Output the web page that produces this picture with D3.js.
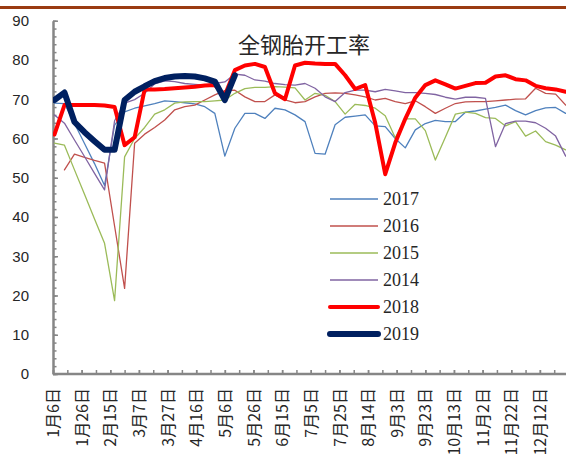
<!DOCTYPE html>
<html>
<head>
<meta charset="utf-8">
<script src="https://cdn.jsdelivr.net/npm/d3@7/dist/d3.min.js"></script>
<style>
  html, body { margin: 0; padding: 0; background: #fff; }
  svg { display: block; }
</style>
</head>
<body>
<svg id="chart" width="566" height="461"></svg>
<script>
// Weekly observation dates, mapped onto a single reference year.
const weekStart = '2019-01-07';
const weekCount = 52;

// Series values (开工率, %), one per week.
const s2017 = [69.0, 68.9, 63.8, 58.7, 53.6, 48.0, 63.4, 66.8, 67.7, 68.3,
  68.9, 69.6, 69.4, 69.1, 68.8, 68.1, 66.4, 55.5, 62.6, 66.4, 66.4, 65.1,
  67.7, 67.3, 66.0, 64.3, 56.2, 56.0, 63.5, 65.4, 65.7, 66.0, 63.2, 63.0,
  60.0, 57.6, 62.2, 63.8, 64.6, 64.3, 64.3, 66.7, 67.0, 67.5, 67.9, 68.5,
  67.1, 66.0, 67.1, 67.8, 67.9, 66.4];
const s2016 = [null, 52.0, 56.0, 55.2, 54.4, 53.7, 37.7, 21.8, 58.8, 61.1,
  62.8, 64.7, 67.3, 68.1, 68.5, 69.8, 71.1, 72.2, 72.3, 70.6, 69.4, 69.4,
  71.1, 69.8, 69.1, 69.4, 70.6, 71.5, 71.6, 71.5, 71.1, 70.6, 69.8, 70.2,
  69.4, 68.9, 69.6, 68.1, 66.4, 67.7, 68.9, 69.3, 69.4, 69.4, 69.6, 69.8,
  70.0, 70.1, 72.8, 71.5, 71.3, 68.5];
const s2015 = [58.8, 58.3, 52.0, 45.8, 39.5, 33.3, 18.7, 55.3, 60.0, 62.8,
  66.2, 67.3, 69.0, 69.3, 69.4, 69.4, 69.6, 69.8, 71.5, 72.7, 73.0, 73.0,
  73.2, 73.1, 72.9, 69.8, 71.5, 71.0, 69.4, 66.2, 68.7, 68.4, 67.7, 65.8,
  60.2, 65.0, 65.0, 62.0, 54.5, 60.3, 66.2, 66.7, 66.4, 65.3, 65.1, 63.2,
  64.3, 60.6, 61.9, 59.2, 58.3, 57.1];
const s2014 = [66.0, 63.9, 59.6, 55.4, 51.1, 46.9, 64.5, 69.0, 69.9, 71.5,
  73.9, 74.7, 74.5, 74.0, 73.8, 73.6, 74.0, 74.4, 76.4, 76.1, 74.9, 74.6,
  74.0, 73.7, 73.6, 74.0, 72.8, 70.6, 69.4, 71.7, 72.3, 72.3, 71.9, 72.5,
  72.1, 71.7, 71.7, 71.5, 71.2, 70.5, 70.0, 70.5, 70.5, 70.2, 57.9, 63.8,
  64.4, 64.4, 64.0, 62.6, 60.6, 55.5];
const s2018 = [61.0, 68.5, 68.5, 68.5, 68.5, 68.4, 68.0, 58.3, 60.3, 72.5,
  72.5, 72.6, 72.8, 73.0, 73.2, 73.5, 73.6, 71.0, 77.4, 78.6, 79.0, 78.2,
  71.5, 70.0, 78.6, 79.3, 79.1, 79.0, 79.0, 76.1, 72.6, 73.6, 64.0, 50.9,
  58.9, 65.0, 70.4, 73.6, 74.8, 73.8, 72.7, 73.4, 74.1, 74.2, 75.8, 76.1,
  75.1, 74.8, 73.4, 72.8, 72.5, 71.9];
const s2019 = [69.8, 71.7, 64.2, 61.6, 59.3, 57.1, 57.1, 69.8, 71.9, 73.3,
  74.6, 75.4, 75.8, 75.9, 75.8, 75.3, 74.5, 69.8, 76.1];

// Legend order and axis ticks.
const seriesNames = ['2017', '2016', '2015', '2014', '2018', '2019'];
const seriesValues = [s2017, s2016, s2015, s2014, s2018, s2019];
const yTicks = [0, 10, 20, 30, 40, 50, 60, 70, 80, 90];
const title = '全钢胎开工率';

const width = 566;
const height = 461;
const margin = {top: 20.7, right: 0, bottom: 87, left: 53};
const colors = ['#4f81bd', '#c0504d', '#9bbb59', '#8064a2', '#ff0000', '#002060'];
const widths = [1.3, 1.3, 1.3, 1.3, 4, 6];
const axisGrey = '#868686';
const textColor = '#262626';

const parse = d3.utcParse('%Y-%m-%d');
const fmtLabel = (d) => `${d.getUTCMonth() + 1}月${d.getUTCDate()}日`;

const axisStart = parse('2019-01-06');
const axisEnd = parse('2019-12-31');
const weeks = d3.range(weekCount).map((i) =>
  d3.utcDay.offset(parse(weekStart), i * 7));

const xScale = d3.scaleUtc()
  .domain([axisStart, axisEnd])
  .range([margin.left, margin.left + 359 * 1.432]);
const yScale = d3.scaleLinear()
  .domain([0, 90])
  .range([height - margin.bottom, margin.top]);

const svg = d3.select('#chart');

// Brown rule across the top of the figure.
svg.append('rect')
  .attr('x', 0).attr('y', 6)
  .attr('width', width).attr('height', 3)
  .attr('fill', '#9a3b12');

// Chart title
svg.append('text')
  .attr('x', 304)
  .attr('y', 53)
  .attr('text-anchor', 'middle')
  .attr('font-family', '"Noto Sans CJK SC", sans-serif')
  .attr('font-size', '22px')
  .attr('fill', textColor)
  .text(title);

// Y axis: labelled major ticks plus minor ticks every 2.
const yAxis = d3.axisLeft(yScale)
  .tickValues(yTicks)
  .tickSizeInner(-5)
  .tickSizeOuter(0)
  .tickPadding(24);
const yMinor = d3.axisLeft(yScale)
  .tickValues(d3.range(0, 91, 2))
  .tickFormat('')
  .tickSizeInner(-3.5)
  .tickSizeOuter(0);

svg.append('g')
  .attr('transform', `translate(${margin.left},0)`)
  .call(yMinor)
  .call((g) => g.select('.domain').remove())
  .call((g) => g.selectAll('line').attr('stroke', axisGrey).attr('stroke-width', 1.5));

svg.append('g')
  .attr('transform', `translate(${margin.left},0)`)
  .call(yAxis)
  .call((g) => g.select('.domain').attr('stroke', axisGrey).attr('stroke-width', 2.5))
  .call((g) => g.selectAll('line').attr('stroke', axisGrey).attr('stroke-width', 1.5))
  .call((g) => g.selectAll('text')
    .attr('font-family', '"Liberation Sans", Arial, sans-serif')
    .attr('font-size', '15px')
    .attr('fill', textColor));

// X axis: ticks every 10 days, labels every 20 days.
const xTicks = d3.range(0, 360, 10).map((d) => d3.utcDay.offset(axisStart, d));
const xLabels = d3.range(0, 360, 20).map((d) => d3.utcDay.offset(axisStart, d));

const xMinor = d3.axisBottom(xScale)
  .tickValues(xTicks)
  .tickFormat('')
  .tickSizeInner(-4)
  .tickSizeOuter(0);
const xAxis = d3.axisBottom(xScale)
  .tickValues(xLabels)
  .tickFormat(fmtLabel)
  .tickSizeInner(-4)
  .tickSizeOuter(0);

svg.append('g')
  .attr('transform', `translate(0,${yScale(0)})`)
  .call(xMinor)
  .call((g) => g.select('.domain').remove())
  .call((g) => g.selectAll('line').attr('stroke', axisGrey).attr('stroke-width', 1.5));

svg.append('g')
  .attr('transform', `translate(0,${yScale(0)})`)
  .call(xAxis)
  .call((g) => g.select('.domain')
    .attr('d', `M${margin.left},0H${width}`)
    .attr('stroke', axisGrey).attr('stroke-width', 2.5))
  .call((g) => g.selectAll('line').attr('stroke', axisGrey).attr('stroke-width', 1.5))
  .call((g) => g.selectAll('text')
    .attr('transform', 'rotate(-90)')
    .attr('text-anchor', 'end')
    .attr('x', -14)
    .attr('y', 0)
    .attr('dy', '0.35em')
    .attr('font-family', '"Noto Sans CJK SC", sans-serif')
    .attr('font-size', '16px')
    .attr('fill', textColor));

// Series lines
const line = d3.line()
  .defined((d) => d.v != null)
  .x((d) => xScale(d.date))
  .y((d) => yScale(d.v));

svg.append('clipPath')
  .attr('id', 'plot-clip')
  .append('rect')
  .attr('x', margin.left).attr('y', 0)
  .attr('width', width - margin.left).attr('height', yScale(0));

const lines = svg.append('g').attr('clip-path', 'url(#plot-clip)');
seriesValues.forEach((values, i) => {
  lines.append('path')
    .datum(values.map((v, k) => ({date: weeks[k], v})))
    .attr('fill', 'none')
    .attr('stroke', colors[i])
    .attr('stroke-width', widths[i])
    .attr('stroke-linejoin', 'round')
    .attr('stroke-linecap', 'round')
    .attr('d', line);
});

// Legend
const legend = svg.append('g').attr('transform', 'translate(330,199)');
seriesNames.forEach((name, i) => {
  const row = legend.append('g').attr('transform', `translate(0,${i * 27})`);
  row.append('line')
    .attr('x1', 0).attr('x2', 48)
    .attr('stroke', colors[i])
    .attr('stroke-width', widths[i])
    .attr('stroke-linecap', i > 3 ? 'round' : 'butt');
  row.append('text')
    .attr('x', 53)
    .attr('dy', '0.35em')
    .attr('font-family', '"Liberation Serif", "Times New Roman", serif')
    .attr('font-size', '18px')
    .attr('fill', textColor)
    .text(name);
});
</script>
</body>
</html>
